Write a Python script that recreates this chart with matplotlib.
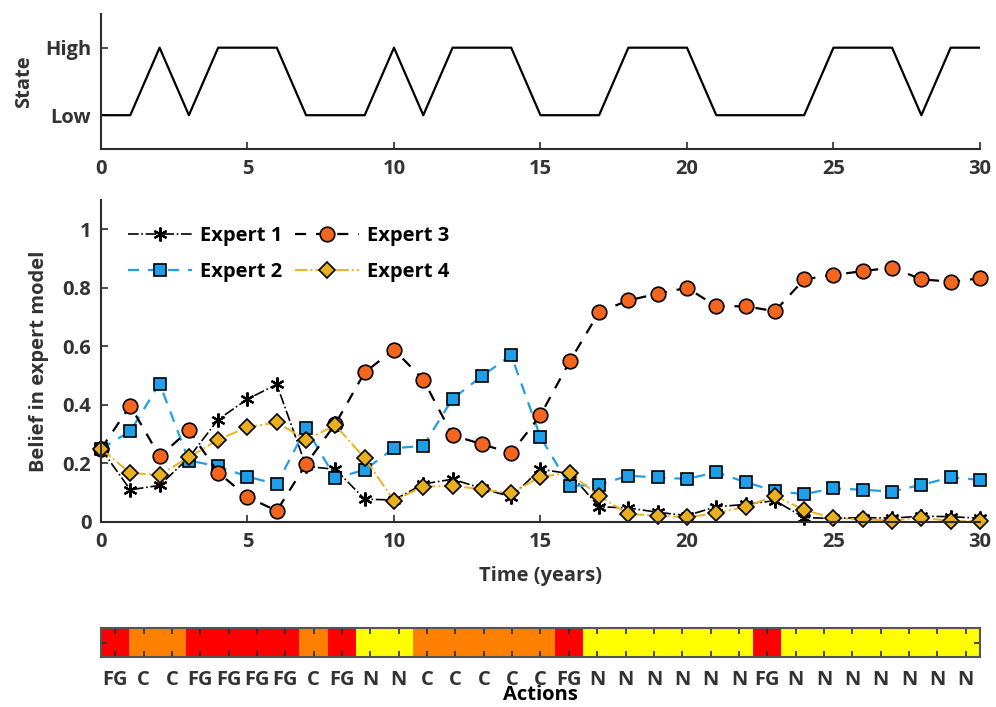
import numpy as np
import matplotlib
matplotlib.use("Agg")
import matplotlib.pyplot as plt
from matplotlib.colors import ListedColormap

plt.rcParams['font.family'] = ['Open Sans', 'DejaVu Sans']
plt.rcParams['font.weight'] = 'bold'
plt.rcParams['axes.labelweight'] = 'bold'

years = np.arange(31)
state = [0, 0, 1, 0, 1, 1, 1, 0, 0, 0, 1, 0, 1, 1, 1, 0, 0, 0, 1, 1, 1, 0, 0, 0, 0, 1, 1, 1, 0, 1, 1]
state_labels = ["Low", "High"]

expert1 = [0.25, 0.11, 0.125, 0.22, 0.35, 0.42, 0.47, 0.19, 0.18, 0.078, 0.075, 0.13, 0.146, 0.115, 0.086,
           0.18, 0.165, 0.052, 0.048, 0.033, 0.022, 0.052, 0.06, 0.073, 0.015, 0.012, 0.015, 0.013, 0.02, 0.018, 0.013]
expert2 = [0.25, 0.31, 0.473, 0.21, 0.19, 0.155, 0.129, 0.321, 0.15, 0.178, 0.252, 0.26, 0.421, 0.498, 0.57,
           0.29, 0.123, 0.127, 0.158, 0.152, 0.147, 0.17, 0.136, 0.106, 0.095, 0.115, 0.11, 0.104, 0.127, 0.152, 0.144]
expert3 = [0.25, 0.397, 0.224, 0.313, 0.169, 0.085, 0.038, 0.198, 0.335, 0.511, 0.589, 0.486, 0.296, 0.266, 0.235,
           0.365, 0.549, 0.717, 0.757, 0.78, 0.80, 0.737, 0.737, 0.72, 0.829, 0.844, 0.857, 0.869, 0.829, 0.821, 0.832]
expert4 = [0.25, 0.167, 0.161, 0.221, 0.281, 0.324, 0.34, 0.281, 0.33, 0.218, 0.073, 0.121, 0.123, 0.112, 0.098,
           0.155, 0.167, 0.089, 0.027, 0.022, 0.016, 0.03, 0.052, 0.089, 0.041, 0.013, 0.009, 0.005, 0.015, 0.003, 0.002]

actions = ['FG', 'C', 'C', 'FG', 'FG', 'FG', 'FG', 'C', 'FG', 'N', 'N', 'C', 'C', 'C', 'C', 'C', 'FG',
           'N', 'N', 'N', 'N', 'N', 'N', 'FG', 'N', 'N', 'N', 'N', 'N', 'N', 'N']
action_codes = {'FG': 0, 'C': 1, 'N': 2}
action_colors = ['#FF0000', '#FF8000', '#FFFF00']

tick_col = '#333333'
spine_col = '#2b2b2b'
fs = 14.5

fig = plt.figure(figsize=(9.96, 7.07), dpi=100)

def style(ax):
    for s in ['top', 'right']:
        ax.spines[s].set_visible(False)
    for s in ['left', 'bottom']:
        ax.spines[s].set_color(spine_col); ax.spines[s].set_linewidth(1.5)
    ax.tick_params(direction='in', length=5, width=1.2, color=spine_col, labelsize=fs, labelcolor=tick_col, pad=7)

# state panel
ax1 = fig.add_axes([0.1014, 0.7893, 0.8825, 0.191])
ax1.plot(years, state, color='black', lw=1.6)
ax1.set_xlim(0, 30); ax1.set_ylim(-0.5, 1.5)
ax1.set_xticks(range(0, 31, 5)); ax1.set_yticks([0, 1]); ax1.set_yticklabels(state_labels)
ax1.set_ylabel("State", fontsize=fs, color=tick_col, labelpad=8)
style(ax1)

# belief panel
ax2 = fig.add_axes([0.1014, 0.2617, 0.8825, 0.4554])
ax2.plot(years, expert1, color='black', ls='-.', lw=1.2, marker=(6, 2, 0), ms=10, mec='black', mew=1.6, label='Expert 1', clip_on=False)
ax2.plot(years, expert2, color='#1E9FEA', ls=(0, (5, 4)), lw=1.6, marker='s', ms=8.5, mfc='#1E9FEA', mec='black', mew=1.2, label='Expert 2', clip_on=False)
ax2.plot(years, expert3, color='black', ls=(0, (5, 4.5)), lw=1.6, marker='o', ms=10.5, mfc='#F4651E', mec='black', mew=1.2, label='Expert 3', clip_on=False)
ax2.plot(years, expert4, color='#EDB120', ls='-.', lw=1.4, marker='D', ms=8.5, mfc='#E8B020', mec='black', mew=1.2, label='Expert 4', clip_on=False)
ax2.set_xlim(0, 30); ax2.set_ylim(0, 1.1)
ax2.set_xticks(range(0, 31, 5)); ax2.set_yticks([0, 0.2, 0.4, 0.6, 0.8, 1]); ax2.set_yticklabels(['0', '0.2', '0.4', '0.6', '0.8', '1'])
ax2.set_xlabel("Time (years)", fontsize=fs, color=tick_col, labelpad=10)
ax2.set_ylabel("Belief in expert model", fontsize=fs, color=tick_col, labelpad=10)
style(ax2)
leg = ax2.legend(ncol=2, loc='upper left', bbox_to_anchor=(0.01, 0.975), frameon=False,
                 prop={'size': fs, 'weight': 'bold'},
                 handlelength=3.2, columnspacing=0.6, handletextpad=0.4, labelspacing=0.8)

# action bar
ax3 = fig.add_axes([0.1014, 0.0707, 0.8825, 0.041])
codes = np.array([action_codes[a] for a in actions])[np.newaxis, :]
ax3.imshow(codes, aspect='auto', cmap=ListedColormap(action_colors), vmin=-0.5, vmax=2.5, interpolation='nearest')
ax3.set_xticks(range(len(actions))); ax3.set_xticklabels(actions)
ax3.set_yticks([0]); ax3.set_yticklabels([''])
ax3.tick_params(direction='in', length=4, width=1.2, color=spine_col, top=True, right=True,
                labelsize=fs, labelcolor=tick_col, pad=9)
for s in ax3.spines.values():
    s.set_color('#555555'); s.set_linewidth(1.5)
ax3.set_xlabel("Actions", fontsize=fs, color='black', labelpad=-3)

fig.savefig("out.png", dpi=100)
